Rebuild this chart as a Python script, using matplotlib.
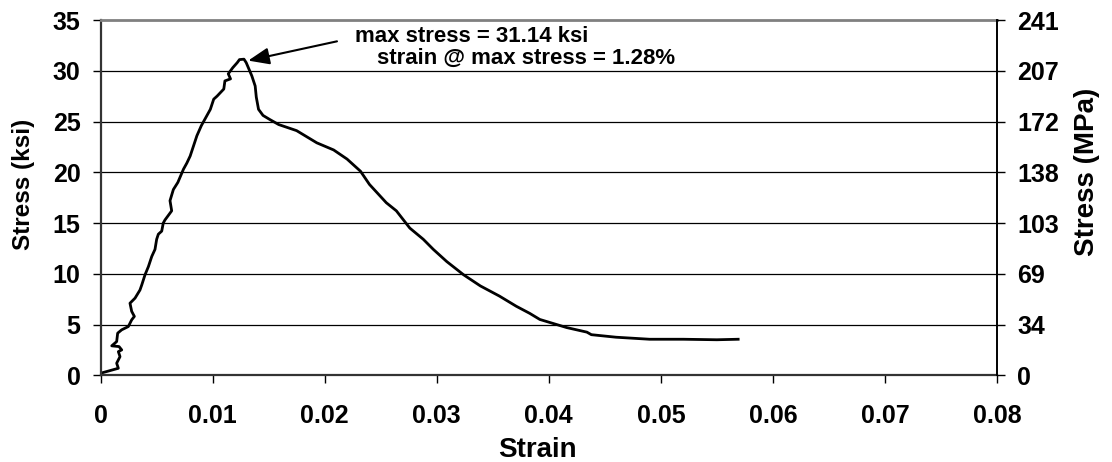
import numpy as np
import matplotlib
matplotlib.use("Agg")
import matplotlib.pyplot as plt

plt.rcParams['font.family'] = ['Liberation Sans', 'DejaVu Sans']
plt.rcParams['font.weight'] = 'bold'

# tension test record: strain (in/in) vs stress (ksi)
strain = [0.0, 0.00159, 0.00144, 0.00174, 0.00159, 0.00189, 0.00165, 0.0010,
          0.00144, 0.00153, 0.00189, 0.00248, 0.00278, 0.00302, 0.00278, 0.00263,
          0.00308, 0.00352, 0.00368, 0.00397, 0.00427, 0.00457, 0.00486, 0.00501,
          0.00516, 0.00546, 0.0056, 0.00575, 0.00635, 0.0062, 0.0065, 0.0069,
          0.0074, 0.0077, 0.0080, 0.0083, 0.0086, 0.0090, 0.0095, 0.0098,
          0.0101, 0.0104, 0.0110, 0.0111, 0.0116, 0.0114, 0.0118, 0.0122,
          0.0124, 0.0128, 0.0130, 0.0135, 0.0138, 0.0139, 0.0141, 0.0145,
          0.0151, 0.0159, 0.0175, 0.0193, 0.0208, 0.0220, 0.0232, 0.0240,
          0.0255, 0.0264, 0.0276, 0.0288, 0.0297, 0.0309, 0.0324, 0.0339,
          0.0356, 0.0371, 0.0383, 0.0392, 0.0404, 0.0416, 0.0434, 0.0438,
          0.0460, 0.0475, 0.0490, 0.0520, 0.0550, 0.0569]
stress = [0.2, 0.69, 1.19, 1.84, 2.33, 2.5, 2.83, 2.9,
          3.32, 4.15, 4.48, 4.8, 5.46, 5.8, 6.3, 7.1,
          7.6, 8.4, 8.9, 9.9, 10.7, 11.7, 12.4, 13.4,
          13.9, 14.2, 15.0, 15.3, 16.2, 17.2, 18.3, 19.0,
          20.3, 20.9, 21.6, 22.6, 23.6, 24.6, 25.6, 26.2,
          27.2, 27.5, 28.2, 29.0, 29.2, 29.7, 30.3, 30.8,
          31.1, 31.14, 30.8, 29.5, 28.5, 27.4, 26.2, 25.6,
          25.2, 24.7, 24.1, 22.9, 22.2, 21.3, 20.1, 18.8,
          17.0, 16.2, 14.5, 13.4, 12.4, 11.2, 9.9, 8.8,
          7.8, 6.8, 6.1, 5.5, 5.1, 4.7, 4.25, 4.0,
          3.75, 3.65, 3.55, 3.55, 3.5, 3.55]

max_stress = 31.14
max_strain_pct = 1.28

ksi_ticks = [0, 5, 10, 15, 20, 25, 30, 35]
mpa_labels = ['0', '34', '69', '103', '138', '172', '207', '241']
strain_ticks = [0, 0.01, 0.02, 0.03, 0.04, 0.05, 0.06, 0.07, 0.08]
strain_labels = ['0', '0.01', '0.02', '0.03', '0.04', '0.05', '0.06', '0.07', '0.08']

fig = plt.figure(figsize=(11.12, 4.62), dpi=100)
ax = fig.add_axes([0.0904, 0.1877, 0.8062, 0.769])

ax.plot(strain, stress, color='black', lw=2.0, solid_joinstyle='round')

ax.set_xlim(0, 0.08)
ax.set_ylim(0, 35)
ax.set_xticks(strain_ticks)
ax.set_xticklabels(strain_labels)
ax.set_yticks(ksi_ticks)
for y in ksi_ticks[1:-1]:
    ax.axhline(y, color='black', lw=0.9, zorder=0)

ax.tick_params(axis='both', direction='out', length=6, width=1, labelsize=18, colors='black')
ax.tick_params(axis='x', pad=15)
ax.tick_params(axis='y', pad=8.5)

ax.set_xlabel('Strain', fontsize=20, fontweight='bold')
ax.xaxis.set_label_coords(0.487, -0.174)
ax.set_ylabel('Stress (ksi)', fontsize=17.5, fontweight='bold')
ax.yaxis.set_label_coords(-0.0859, 0.538)
ax.yaxis.label.set_va('center')

ax.spines['top'].set_color('#808080')
ax.spines['top'].set_linewidth(2)
ax.spines['left'].set_color('#333333')
ax.spines['left'].set_linewidth(1.6)
ax.spines['bottom'].set_color('#333333')
ax.spines['bottom'].set_linewidth(1.6)
ax.spines['right'].set_visible(False)

# secondary axis in MPa
ax2 = ax.twinx()
ax2.set_ylim(0, 35)
ax2.set_yticks(ksi_ticks)
ax2.set_yticklabels(mpa_labels)
ax2.tick_params(axis='y', direction='out', length=6, width=1, labelsize=18, pad=8.5)
ax2.set_ylabel('Stress (MPa)', fontsize=20, fontweight='bold')
ax2.yaxis.set_label_coords(1.1004, 0.572)
ax2.yaxis.label.set_va('center')
for s in ['top', 'left', 'bottom']:
    ax2.spines[s].set_visible(False)
ax2.spines['right'].set_color('black')
ax2.spines['right'].set_linewidth(1.4)

ax.annotate('', xy=(0.01318, 31.0), xytext=(0.0211, 32.9),
            arrowprops=dict(arrowstyle='-|>,head_length=0.8,head_width=0.32',
                            mutation_scale=16, color='black', lw=1.5,
                            shrinkA=0, shrinkB=0))
ax.text(0.0227, 33.4, f'max stress = {max_stress:.2f} ksi', fontsize=16,
        fontweight='bold', ha='left', va='center')
ax.text(0.02464, 31.25, f'strain @ max stress = {max_strain_pct:.2f}%', fontsize=16,
        fontweight='bold', ha='left', va='center')

fig.savefig('out.png', dpi=100)
